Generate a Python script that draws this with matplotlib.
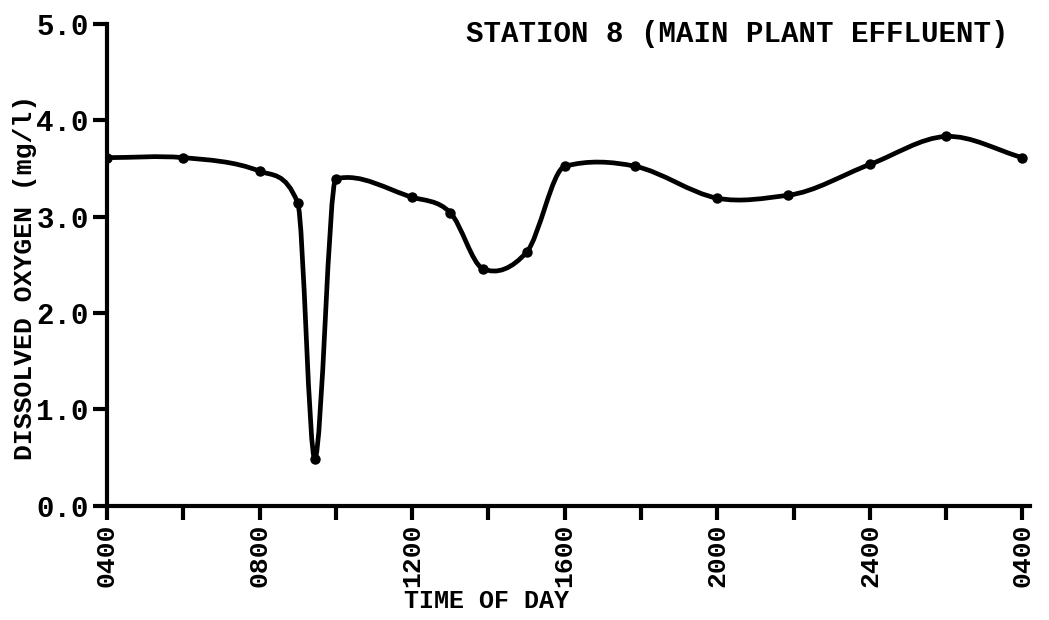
import matplotlib
matplotlib.use("Agg")
import matplotlib.pyplot as plt
from matplotlib.path import Path
from matplotlib.patches import PathPatch
import numpy as np

# Dados (horas a partir de 0400; 24 = meia-noite, 28 = 0400 do dia seguinte)
horas = [4, 6, 8, 9, 9.45, 10, 12, 13, 13.85, 15, 16, 17.85, 20, 21.85, 24, 26, 28]
oxigenio = [3.61, 3.61, 3.47, 3.14, 0.49, 3.39, 3.20, 3.04, 2.46, 2.63, 3.52,
            3.52, 3.19, 3.22, 3.54, 3.83, 3.61]

ticks_x = [4, 8, 12, 16, 20, 24, 28]
rotulos_x = ["0400", "0800", "1200", "1600", "2000", "2400", "0400"]
ticks_menores_x = [6, 10, 14, 18, 22, 26]
ticks_y = [0.0, 1.0, 2.0, 3.0, 4.0, 5.0]

FONTE = "Liberation Mono"


def curva_suave(xs, ys):
    # curva lisa feita à mão: tangentes por diferença central, limitadas
    x = np.asarray(xs, float)
    y = np.asarray(ys, float)
    h = np.diff(x)
    d = np.diff(y) / h
    n = len(x)
    m = np.zeros(n)
    for k in range(1, n - 1):
        fd = (y[k + 1] - y[k - 1]) / (x[k + 1] - x[k - 1])
        if d[k - 1] * d[k] > 0:
            lim = 3 * min(abs(d[k - 1]), abs(d[k]))
        else:
            lim = 0.2 / max(h[k - 1], h[k])
        m[k] = np.clip(fd, -lim, lim)
    m[0] = d[0]
    m[-1] = d[-1]
    verts = [(x[0], y[0])]
    codes = [Path.MOVETO]
    for i in range(n - 1):
        verts += [(x[i] + h[i] / 3, y[i] + m[i] * h[i] / 3),
                  (x[i + 1] - h[i] / 3, y[i + 1] - m[i + 1] * h[i] / 3),
                  (x[i + 1], y[i + 1])]
        codes += [Path.CURVE4] * 3
    return Path(verts, codes)


fig = plt.figure(figsize=(10.49, 6.2), dpi=100)
ax = fig.add_axes([0.102, 0.184, 0.880, 0.778])

ax.add_patch(PathPatch(curva_suave(horas, oxigenio), fill=False,
                       lw=3.4, edgecolor="black", capstyle="round",
                       joinstyle="round"))
ax.plot(horas, oxigenio, "o", color="black", markersize=6.5)

ax.set_xlim(4, 28.2)
ax.set_ylim(0, 5.0)

ax.spines["top"].set_visible(False)
ax.spines["right"].set_visible(False)
for lado in ["left", "bottom"]:
    ax.spines[lado].set_linewidth(3)

ax.set_xticks(ticks_x)
ax.set_xticklabels(rotulos_x, rotation=90, fontfamily=FONTE,
                   fontweight="bold", fontsize=19)
ax.set_xticks(ticks_menores_x, minor=True)
ax.set_yticks(ticks_y)
ax.set_yticklabels(["%.1f" % v for v in ticks_y], fontfamily=FONTE,
                   fontweight="bold", fontsize=21)
ax.tick_params(axis="both", which="both", direction="out", length=10,
               width=3, pad=3)

fig.text(0.464, 0.030, "TIME OF DAY", ha="center", va="center",
         fontfamily=FONTE, fontweight="bold", fontsize=18)
fig.text(0.024, 0.552, "DISSOLVED OXYGEN (mg/l)", rotation=90,
         ha="center", va="center", fontfamily=FONTE, fontweight="bold",
         fontsize=19)
fig.text(0.703, 0.945, "STATION 8 (MAIN PLANT EFFLUENT)", ha="center",
         va="center", fontfamily=FONTE, fontweight="bold", fontsize=21)

fig.savefig("out.png", dpi=100)
